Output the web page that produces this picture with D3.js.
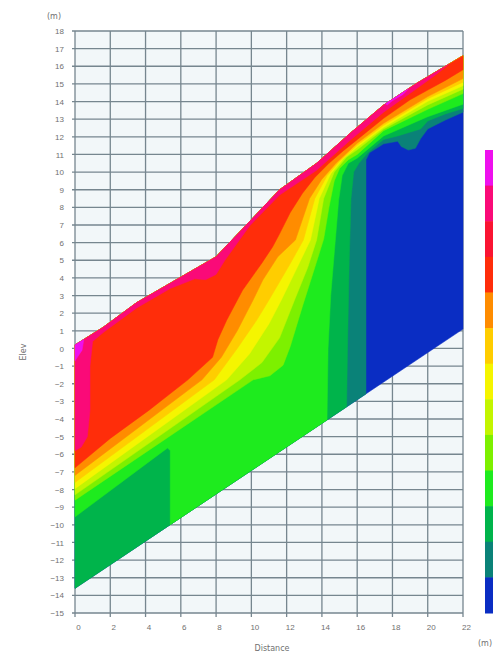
<!DOCTYPE html>
<html lang="en">
<head>
<meta charset="UTF-8">
<title>Section contour</title>
<script src="https://d3js.org/d3.v7.min.js"></script>
<style>
  body { margin: 0; background: #fff; font-family: "DejaVu Sans", Arial, sans-serif; }
  svg { display: block; }
  .lbl { font-size: 8px; fill: #707070; }
</style>
</head>
<body>
<svg width="493" height="653"></svg>
<script>
// ticks
const xTicks = [0, 2, 4, 6, 8, 10, 12, 14, 16, 18, 20, 22];
const yTicks = [18, 17, 16, 15, 14, 13, 12, 11, 10, 9, 8, 7, 6, 5, 4, 3, 2, 1, 0,
  -1, -2, -3, -4, -5, -6, -7, -8, -9, -10, -11, -12, -13, -14, -15];

// colour levels, low -> high (legend is drawn high at top)
const levelColors = ["#0a2dc3", "#0a8278", "#00b44b", "#1eeb1e", "#7df000", "#c3f500",
  "#f5f500", "#ffcd00", "#ff8c00", "#ff2d0a", "#fa1432", "#fa0a78", "#ee10ee"];

// section outline [distance, elevation]
const surface = [[0, 0.2], [1.6, 1.2], [3.5, 2.6], [5.4, 3.7], [8.0, 5.2], [9.9, 7.2],
  [11.6, 9.0], [13.7, 10.5], [15.6, 12.2], [17.5, 13.8], [19.4, 15.05], [22, 16.6]];
const baseLine = [[0, -13.6], [22, 1.1]];

// lower edge of the area at or above each level
const edgeTeal = [[0, -13.6], [16.5, -2.58], [16.5, 10.7], [16.7, 11.1], [17.5, 11.6], [18.3, 11.75],
  [18.5, 11.45], [18.9, 11.25], [19.3, 11.35], [19.6, 11.9], [20, 12.45], [21, 12.95], [22, 13.4]];
const edgeGreen = [[0, -13.6], [15.4, -3.31], [15.45, 0], [15.55, 5], [15.65, 8.5], [15.8, 10.0],
  [16.1, 10.5], [16.6, 11.1], [17.5, 11.85], [18.3, 12.05], [19.6, 12.45], [20, 12.9], [21, 13.3], [22, 13.6]];
const edgeBright = [[0, -9.55], [5.25, -5.64], [5.4, -5.8], [5.4, -9.99], [14.29, -4.05], [14.35, 0],
  [14.5, 3], [14.75, 6], [14.95, 8.4], [15.15, 9.8], [15.5, 10.5], [16, 10.79], [17.5, 12.05],
  [20, 13.14], [22, 13.85]];
const edgeLight = [[0, -8.6], [10.1, -1.78], [11.05, -1.55], [11.8, -0.95], [12.2, 0.1], [12.9, 2.4],
  [13.6, 4.6], [14.1, 6.2], [14.4, 8.0], [14.7, 9.5], [15.0, 10.2], [15.5, 10.7], [16, 11.0],
  [17.5, 12.35], [20, 13.56], [22, 14.45]];
const edgeLime = [[0, -8.3], [9.35, -1.78], [10.6, -0.8], [11.6, 0.6], [12.45, 2.75], [13.2, 4.6],
  [13.7, 6.15], [14.1, 8.5], [14.7, 10.0], [15.4, 10.85], [16, 11.26], [17.5, 12.44], [20, 13.81], [22, 14.7]];
const edgeYellow = [[0, -7.95], [8.6, -1.78], [9.9, -0.3], [11.0, 1.4], [11.7, 2.75], [12.7, 4.8],
  [13.35, 6.15], [13.85, 8.5], [14.5, 9.9], [15.2, 10.75], [16, 11.42], [17.5, 12.54], [20, 14.01], [22, 14.9]];
const edgeGold = [[0, -7.6], [7.9, -1.78], [9.2, 0.0], [10.3, 1.6], [11.0, 2.75], [12.2, 4.8],
  [12.95, 6.15], [13.6, 8.5], [14.3, 9.8], [15.0, 10.6], [16, 11.52], [17.5, 12.65], [20, 14.16], [22, 15.1]];
const edgeOrange = [[0, -7.2], [7.2, -1.78], [8.3, -0.5], [9.2, 1.0], [10.1, 2.75], [10.65, 3.88],
  [11.5, 5.2], [12.5, 6.15], [13.3, 8.5], [14.0, 9.6], [14.8, 10.5], [16, 11.64], [17.5, 12.77],
  [20, 14.28], [22, 15.3]];
const edgeRed = [[0, -6.77], [2, -5.1], [4.2, -3.5], [6.4, -1.78], [7.8, -0.5], [8.1, 0.5], [8.6, 1.6],
  [9.5, 3.3], [10.6, 4.85], [11.2, 5.75], [11.6, 6.5], [12.2, 7.7], [12.9, 8.8], [13.6, 9.7],
  [14.4, 10.5], [15.2, 11.2], [16, 11.84], [17.5, 13.05], [19, 14.1], [20, 14.65], [21, 15.2], [22, 15.8]];
const edgePink = [[0, -5.8], [0.35, -5.6], [0.7, -5.0], [0.85, -3.5], [0.85, -1.0], [1.0, 0.4],
  [1.6, 0.9], [3.5, 2.3], [5.4, 3.4], [6.8, 3.95], [7.4, 3.9], [8.0, 4.2], [8.5, 5.0], [9.9, 6.95],
  [11.6, 8.7], [13.7, 10.1], [15.6, 11.8], [17.5, 13.4], [19.4, 14.75], [20.5, 15.55], [21.2, 16.12]];
// small closed patches
const magentaCorner = [[0, 0.2], [0.5, 0.51], [0.4, -0.1], [0, -0.7]];
const magentaRidge = [[17.6, 13.87], [18.3, 14.33], [18.9, 14.72], [18.6, 14.4], [18.0, 14.05], [17.7, 13.8]];

const svg = d3.select("svg");
const x = d3.scaleLinear().domain([0, 22]).range([75, 463]);
const y = d3.scaleLinear().domain([-15, 18]).range([613, 31]);
const line = d3.line().x(d => x(d[0])).y(d => y(d[1]));

// plot background + grid
svg.append("rect")
  .attr("x", x(0)).attr("y", y(18))
  .attr("width", x(22) - x(0)).attr("height", y(-15) - y(18))
  .attr("fill", "#f2f7f9");

const grid = svg.append("g").attr("stroke", "#76868f").attr("stroke-width", 1.3);
grid.selectAll(".gy").data(yTicks).join("line")
  .attr("x1", x(0) - 3).attr("x2", x(22))
  .attr("y1", d => y(d)).attr("y2", d => y(d));
grid.selectAll(".gx").data(xTicks).join("line")
  .attr("x1", d => x(d)).attr("x2", d => x(d))
  .attr("y1", y(18)).attr("y2", y(-15) + 4);

// filled areas: edge + surface back to the left side
function area(edge) {
  const last = edge[edge.length - 1][0];
  const top = surface.filter(p => p[0] <= last + 1e-9).reverse();
  return edge.concat(top);
}
const regions = [
  { level: 0, pts: area(baseLine) },
  { level: 1, pts: area(edgeTeal) },
  { level: 2, pts: area(edgeGreen) },
  { level: 3, pts: area(edgeBright) },
  { level: 4, pts: area(edgeLight) },
  { level: 5, pts: area(edgeLime) },
  { level: 6, pts: area(edgeYellow) },
  { level: 7, pts: area(edgeGold) },
  { level: 8, pts: area(edgeOrange) },
  { level: 9, pts: area(edgeRed) },
  { level: 11, pts: area(edgePink) },
  { level: 12, pts: magentaCorner },
  { level: 12, pts: magentaRidge }
];
svg.append("g").selectAll("path").data(regions).join("path")
  .attr("d", d => line(d.pts) + "Z")
  .attr("fill", d => levelColors[d.level])
  .attr("stroke", d => levelColors[d.level])
  .attr("stroke-width", 0.5)
  .attr("stroke-linejoin", "round");

// axes labels
const yAxis = svg.append("g")
  .attr("transform", `translate(${x(0)},0)`)
  .call(d3.axisLeft(y).tickValues(yTicks).tickSize(0).tickPadding(11));
const xAxis = svg.append("g")
  .attr("transform", `translate(3,${y(-15)})`)
  .call(d3.axisBottom(x).tickValues(xTicks).tickSize(0).tickPadding(11));
[yAxis, xAxis].forEach(a => {
  a.select(".domain").remove();
  a.selectAll("text").attr("class", "lbl").attr("font-family", null).attr("font-size", null);
});

svg.append("text").attr("class", "lbl").attr("x", 54).attr("y", 19).attr("text-anchor", "middle").text("(m)");
svg.append("text").attr("class", "lbl").attr("x", 272).attr("y", 651).attr("text-anchor", "middle").text("Distance");
svg.append("text").attr("class", "lbl").attr("x", 478).attr("y", 646).text("(m)");
svg.append("text").attr("class", "lbl")
  .attr("transform", "translate(26,352) rotate(-90)")
  .attr("text-anchor", "middle").text("Elev");

// colour legend
const legendLevels = d3.range(levelColors.length).reverse();
const ly = d3.scaleBand().domain(legendLevels).range([150, 613]);
svg.append("g").selectAll("rect").data(legendLevels).join("rect")
  .attr("x", 485).attr("y", d => ly(d))
  .attr("width", 14).attr("height", ly.bandwidth() + 0.5)
  .attr("fill", d => levelColors[d]);
</script>
</body>
</html>
